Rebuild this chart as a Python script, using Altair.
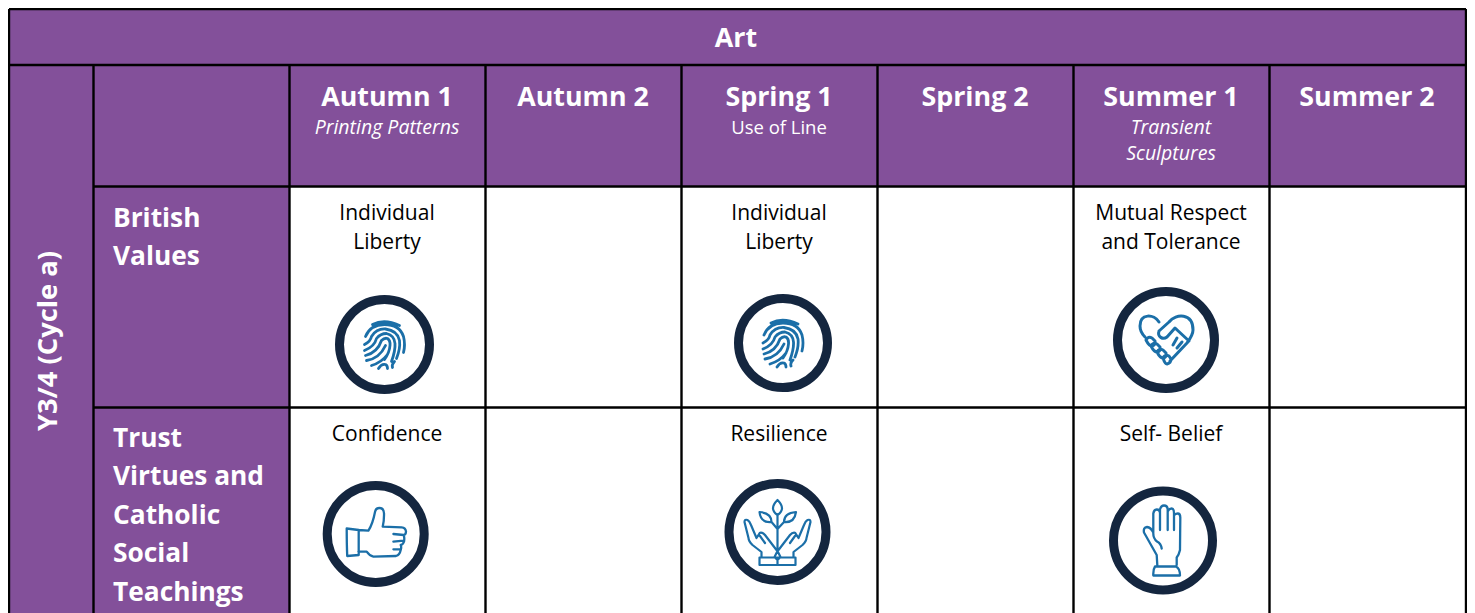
import altair as alt
import pandas as pd

PURPLE = "#83509a"
LINE = "#000000"
RING = "#14263f"
BLUE = "#1b6fa8"
FONT = "Open Sans"

# table geometry
col_edges = [9, 93.5, 289.5, 485.5, 681.5, 877.5, 1073.5, 1269.5, 1466]
row_edges = [9, 65, 186.5, 407.5, 613]

# purple cells: left, right, top, bottom
cell_x = [col_edges[0], col_edges[0], col_edges[1], col_edges[1], col_edges[1]]
cell_x2 = [col_edges[-1], col_edges[1], col_edges[-1], col_edges[2], col_edges[2]]
cell_y = [row_edges[0], row_edges[1], row_edges[1], row_edges[2], row_edges[3]]
cell_y2 = [row_edges[1], row_edges[4], row_edges[2], row_edges[3], row_edges[4]]

# rules
v_x = col_edges
v_y = [9, 65, 65, 65, 65, 65, 65, 65, 9]
v_y2 = [613] * 9
h_y = row_edges[:-1]
h_x = [9, 9, 93.5, 93.5]
h_x2 = [1466] * 4

# texts
head_text = ["Art", "Autumn 1", "Autumn 2", "Spring 1", "Spring 2", "Summer 1", "Summer 2"]
head_x = [736, 387, 583, 779, 975, 1171, 1367]
head_y = [39, 98, 98, 98, 98, 98, 98]

row_text = ["British", "Values", "Trust", "Virtues and", "Catholic", "Social", "Teachings"]
row_y = [218.5, 256.5, 438.5, 477, 515.5, 554, 592.5]
row_x = [113] * 7

topic_it_text = ["Printing Patterns", "Transient", "Sculptures"]
topic_it_x = [387, 1171, 1171]
topic_it_y = [127.5, 127.5, 153.5]
topic_text = ["Use of Line"]
topic_x = [779]
topic_y = [127.5]

body_text = ["Individual", "Liberty", "Individual", "Liberty", "Mutual Respect", "and Tolerance",
             "Confidence", "Resilience", "Self- Belief"]
body_x = [387, 387, 779, 779, 1171, 1171, 387, 779, 1171]
body_y = [213.5, 242.5, 213.5, 242.5, 213.5, 242.5, 434.5, 434.5, 434.5]

side_text = ["Y3/4 (Cycle a)"]
side_x = [49]
side_y = [341]

# icon rings: centre and radius
ring_x = [384.5, 783, 1166, 375.7, 777.5, 1163]
ring_y = [344.5, 343, 340, 534, 532, 540.5]
ring_r = [45, 44.5, 48.5, 48.5, 48.5, 49.5]

# icon glyphs (symbol paths, size 4 makes one path unit one pixel)
FINGER = ("M-12,-20Q0,-26 15,-19 M-19,-8Q-14,-20 0,-20Q15,-20 19,-8Q21,0 19,8 "
          "M-20,0Q-14,-3 -13,-8Q-8,-16 1,-15.5Q13,-14 15,-4Q16,4 12,14 "
          "M-20,6Q-10,2 -8,-6Q-4,-11 2,-11Q10,-9 10.5,-1Q11,6 7,17 "
          "M-19,11Q-7,8 -3,-4Q0,-7 3,-6Q6,-4 5.5,1Q5,8 0,15 "
          "M-18,16Q-5,14 1,1 M-13,21Q-3,18 3,10 M-6,24Q-3,19 1,20Q3,21 3,24 M8,23Q7,20 10,17")
HEART = ("M-7,-18C-12,-26 -26,-27 -26,-14C-26,-9 -24,-6 -21,-3 "
         "M-7,-9L3,-18C10,-27 27,-27 27,-10C27,-5 24,-1 21,3L4,21 "
         "M-7,-9C-9,-3 -3,0 1,-3L9,-12L23,1 M7,5L11,-2 M11,8L16,2 "
         "M-20,0Q-18,-4 -14,-2L-11,1Q-10,5 -14,6Q-17,6 -20,0Z "
         "M-15,6Q-13,2 -9,4L-6,7Q-5,11 -9,12Q-12,12 -15,6Z "
         "M-9,12Q-7,8 -3,10L0,13Q1,17 -3,18Q-6,18 -9,12Z "
         "M-3,18Q-1,14 3,16L5,19Q5,23 1,24Q-1,24 -3,18Z")
THUMB = ("M-17,-4L-29,-5.5Q-29,10 -28.5,22L-17,21Z "
         "M-17.3,-4L-7.3,-3.3Q-3,-10 -0.7,-22Q0,-26 3.7,-26Q8,-26 8.3,-20.7Q8.5,-13 7,-7.3"
         "L26,-6.7Q30,-6.5 30.3,-2.3Q30,1 28,1Q29,4 28.3,7.7Q27,11 25,11Q26,13 25,16Q24,21 20.3,22"
         "L-2.3,22.7Q-6,22 -9,17.7L-17.3,17.7 "
         "M17.7,0L28,1 M17.7,7.7L27.7,6.7 M17.7,15.3L25,15.3")
PLANT = ("M0,-17L0,18 M0,-32Q-9,-23 0,-17Q9,-23 0,-32Z "
         "M-18,-20Q-17,-9 -6,-10Q-6,-19 -18,-20Z M18.5,-20Q17,-9 6.5,-10Q6.5,-19 18.5,-20Z "
         "M0,-3L-6,-10 M0,-3L6.5,-10 "
         "M-16,25L-16,20L-25,13Q-29,9 -29,6L-33,-10Q-33,-13 -30,-12Q-28,-11 -26.5,-7L-21,6 "
         "M-21,6L-17.5,0.7Q-15,0 -12.5,3L-1,18 M-12.5,11L-17.5,4 "
         "M16,25L16,20L25,13Q29,9 29,6L33,-10Q33,-13 30,-12Q28,-11 26.5,-7L21,6 "
         "M21,6L17.5,0.7Q15,0 12.5,3L1,18 M12.5,11L17.5,4 "
         "M-18,25.5L18,25.5L18,33L-18,33Z M0,19L-3,25L0,28L3,25Z M0,28L0,33")
HAND = ("M-5.7,24.5L-6.3,14.5L-19,-8Q-20,-13 -16,-13.5Q-12,-13 -9.7,-8L-9.7,-27Q-9,-31 -6.3,-31Q-3,-31 -3,-27"
        "L-3,-31Q-2,-35 1,-35Q4.5,-35 4.7,-31L4.7,-29Q6,-32 8.7,-32Q11,-32 11,-27L11,-25Q12,-27 14.7,-27"
        "Q17.3,-27 17.3,-23L17,9.5Q16,14 13.7,17L13.7,24.5 "
        "M-3,-29L-3,-10.5 M4.7,-31L4.7,-10.5 M11,-27L11,-10.5 M-9.7,-8Q-10,-2 -6,1Q-2,3 -1.3,8 "
        "M-8,26L13,26Q17,28 17,35L-9.7,35Q-10,29 -8,26Z")
icon_path = [FINGER, FINGER, HEART, THUMB, PLANT, HAND]
icon_x = ring_x
icon_y = ring_y
icon_stroke = [2.8, 2.8, 3.0, 2.3, 2.2, 2.3]

X = alt.Scale(domain=[8, 1467], range=[0, 1459])
Y = alt.Scale(domain=[8, 613], range=[0, 605])


def enc(**kw):
    out = {}
    for k, v in kw.items():
        if k in ("x", "x2"):
            out[k] = alt.X(v, type="quantitative", scale=X, axis=None) if k == "x" else alt.X2(v)
        elif k in ("y", "y2"):
            out[k] = alt.Y(v, type="quantitative", scale=Y, axis=None) if k == "y" else alt.Y2(v)
    return out


cells = alt.Chart(pd.DataFrame(dict(x=cell_x, x2=cell_x2, y=cell_y, y2=cell_y2))).mark_rect(
    color=PURPLE).encode(**enc(x="x", x2="x2", y="y", y2="y2"))

vrules = alt.Chart(pd.DataFrame(dict(x=v_x, y=v_y, y2=v_y2))).mark_rule(
    color=LINE, strokeWidth=2.4).encode(**enc(x="x", y="y", y2="y2"))
hrules = alt.Chart(pd.DataFrame(dict(y=h_y, x=h_x, x2=h_x2))).mark_rule(
    color=LINE, strokeWidth=2.4).encode(**enc(x="x", x2="x2", y="y"))


def text(labels, xs, ys, **style):
    df = pd.DataFrame(dict(t=labels, x=xs, y=ys))
    return alt.Chart(df).mark_text(font=FONT, baseline="middle", **style).encode(
        text="t:N", **enc(x="x", y="y"))


layers = [cells, vrules, hrules,
          text(head_text, head_x, head_y, fontSize=26.8, fontWeight="bold", color="white", align="center"),
          text(row_text, row_x, row_y, fontSize=26.3, fontWeight="bold", color="white", align="left"),
          text(side_text, side_x, side_y, fontSize=27.3, fontWeight="bold", color="white", align="center", angle=270),
          text(topic_it_text, topic_it_x, topic_it_y, fontSize=19.5, fontStyle="italic", color="white", align="center"),
          text(topic_text, topic_x, topic_y, fontSize=18.5, color="white", align="center"),
          text(body_text, body_x, body_y, fontSize=21, color="black", align="center"),
          alt.Chart(pd.DataFrame(dict(x=ring_x, y=ring_y, s=[4 * r * r for r in ring_r]))).mark_point(
              shape="circle", filled=False, color=RING, strokeWidth=9, opacity=1).encode(
              size=alt.Size("s:Q", scale=None), **enc(x="x", y="y"))]

for path, ix, iy, sw in zip(icon_path, icon_x, icon_y, icon_stroke):
    layers.append(
        alt.Chart(pd.DataFrame(dict(x=[ix], y=[iy]))).mark_point(
            shape=path, filled=False, stroke=BLUE, strokeWidth=sw, size=4, opacity=1,
            strokeCap="round", strokeJoin="round").encode(**enc(x="x", y="y"))
    )

chart = alt.layer(*layers).properties(
    width=1459, height=605, padding=0, background="white",
    autosize=alt.AutoSizeParams(type="none"),
).configure_view(stroke=None)

chart.save("out.html", embed_options={"renderer": "svg", "actions": False})
